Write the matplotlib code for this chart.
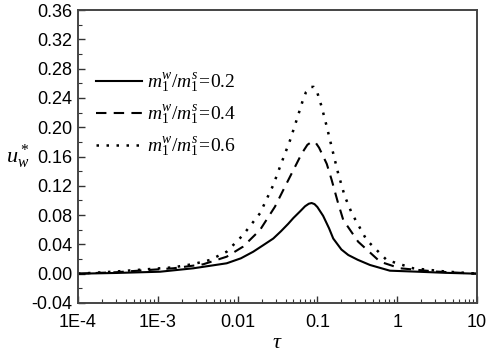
import matplotlib
matplotlib.use("Agg")
import matplotlib.pyplot as plt
from matplotlib.ticker import FixedLocator, FixedFormatter, LogLocator, MultipleLocator

plt.rcParams['font.family'] = 'Liberation Sans'
plt.rcParams['mathtext.fontset'] = 'custom'
plt.rcParams['mathtext.rm'] = 'Liberation Serif'
plt.rcParams['mathtext.it'] = 'Liberation Serif:italic'

# m1w/m1s = 0.2 (solid)
tau_02 = [1e-4, 3e-4, 0.00107, 0.0028, 0.0073, 0.011, 0.0157, 0.021, 0.028, 0.035, 0.043,
          0.05, 0.0606, 0.07, 0.078, 0.0847, 0.092, 0.1, 0.118, 0.14, 0.158, 0.2, 0.244,
          0.32, 0.456, 0.81, 1.82, 4.0, 10.0]
u_02 = [0.0, 0.001, 0.0027, 0.0074, 0.0142, 0.021, 0.030, 0.039, 0.048, 0.058, 0.068,
        0.076, 0.085, 0.092, 0.0955, 0.0965, 0.095, 0.091, 0.079, 0.062, 0.048, 0.033,
        0.0255, 0.019, 0.0119, 0.0041, 0.0027, 0.0012, 0.0]

# m1w/m1s = 0.4 (dashed)
tau_04 = [1e-4, 3e-4, 0.00157, 0.0037, 0.0073, 0.0117, 0.0191, 0.0294, 0.0393, 0.0525,
          0.0636, 0.075, 0.0847, 0.095, 0.105, 0.131, 0.151, 0.18, 0.211, 0.324, 0.61,
          1.08, 3.0, 10.0]
u_04 = [0.0, 0.002, 0.0074, 0.0128, 0.0232, 0.0369, 0.0597, 0.0915, 0.119, 0.146,
        0.164, 0.176, 0.180, 0.179, 0.172, 0.150, 0.128, 0.098, 0.0733, 0.0437, 0.0164,
        0.0074, 0.003, 0.0]

# m1w/m1s = 0.6 (dotted)
tau_06 = [1e-4, 3e-4, 0.00157, 0.0028, 0.0045, 0.0073, 0.0117, 0.0191, 0.028, 0.034,
          0.0454, 0.055, 0.065, 0.072, 0.0824, 0.09, 0.098, 0.113, 0.131, 0.151, 0.182,
          0.22, 0.27, 0.414, 0.738, 1.58, 4.0, 10.0]
u_06 = [0.0, 0.003, 0.0087, 0.0132, 0.0187, 0.030, 0.0528, 0.0825, 0.121, 0.146,
        0.182, 0.210, 0.235, 0.248, 0.255, 0.255, 0.250, 0.228, 0.201, 0.173, 0.137,
        0.106, 0.0825, 0.046, 0.0187, 0.0074, 0.003, 0.0]

labels = [r'$m_1^w/m_1^s\!=\!0.2$', r'$m_1^w/m_1^s\!=\!0.4$', r'$m_1^w/m_1^s\!=\!0.6$']
xtick_vals = [1e-4, 1e-3, 1e-2, 1e-1, 1, 10]
xtick_labels = ['1E-4', '1E-3', '0.01', '0.1', '1', '10']

fig = plt.figure(figsize=(4.98, 3.55), dpi=100)
ax = fig.add_axes([0.1566, 0.1465, 0.8012, 0.8253])

ax.plot(tau_02, u_02, color='black', lw=1.5, linestyle='-', label=labels[0])
ax.plot(tau_04, u_04, color='black', lw=1.5, linestyle=(0, (5, 3.5)), label=labels[1])
ax.plot(tau_06, u_06, color='black', lw=1.8, linestyle=(0, (1, 3)), label=labels[2])

ax.set_xscale('log')
ax.set_xlim(1e-4, 10)
ax.set_ylim(-0.04, 0.36)
ax.xaxis.set_major_locator(FixedLocator(xtick_vals))
ax.xaxis.set_major_formatter(FixedFormatter(xtick_labels))
ax.xaxis.set_minor_locator(LogLocator(base=10, subs=range(2, 10), numticks=20))
ax.yaxis.set_major_locator(MultipleLocator(0.04))
ax.yaxis.set_minor_locator(MultipleLocator(0.02))
ax.yaxis.set_major_formatter(plt.FuncFormatter(lambda v, p: f'{v:.2f}'))

ax.tick_params(which='both', direction='in', top=False, right=False,
               labelsize=13, color='#333333')
ax.tick_params(which='major', length=5, width=1.0, pad=4)
ax.tick_params(axis='x', which='major', pad=8)
ax.tick_params(which='minor', length=3, width=0.8)
for s in ax.spines.values():
    s.set_linewidth(1.4)
    s.set_color('#444444')

ax.set_xlabel(r'$\tau$', fontsize=16, labelpad=1)
ax.set_ylabel(r'$u_w^*$', fontsize=16, rotation=0)
ax.yaxis.set_label_coords(-0.15, 0.45)

leg = ax.legend(loc='upper left', bbox_to_anchor=(0.025, 0.817), frameon=False,
                fontsize=14, handlelength=2.4, handletextpad=0.25, labelspacing=0.46,
                borderaxespad=0.0)

fig.savefig('out.png', dpi=100)
